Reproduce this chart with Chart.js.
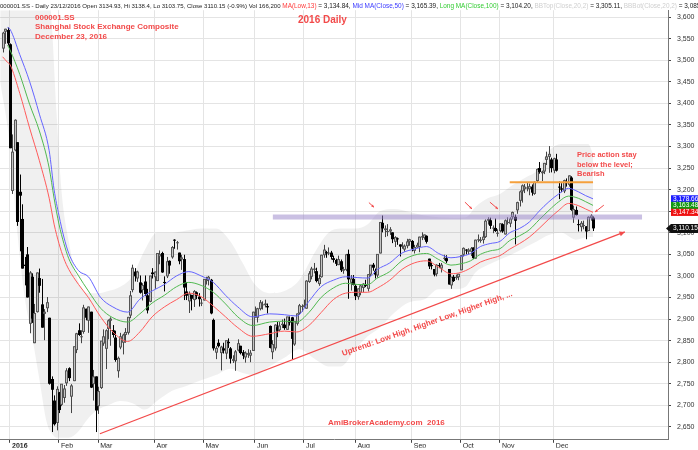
<!DOCTYPE html>
<html>
<head>
<meta charset="utf-8">
<script src="https://cdn.jsdelivr.net/npm/chart.js@4.4.1/dist/chart.umd.min.js"></script>
<style>
  html, body { margin: 0; padding: 0; background: #fff; }
</style>
</head>
<body>
<canvas id="chart" width="698" height="450"></canvas>
<script>
// day index 0 = 4 Jan 2016, the first three bars are the last days of 2015
const firstDay = -3;

const monthStart = [0, 20, 36, 59, 79, 100, 120, 141, 164, 184, 200, 222];
const monthNames = ['2016', 'Feb', 'Mar', 'Apr', 'May', 'Jun', 'Jul', 'Aug', 'Sep', 'Oct', 'Nov', 'Dec'];
const yTicks = [2650, 2700, 2750, 2800, 2850, 2900, 2950, 3000, 3050, 3100, 3150, 3200, 3250, 3300, 3350, 3400, 3450, 3500, 3550, 3600];

const openP = [
  3527, 3566, 3570,
  3537, 3197, 3291, 3310, 3195, 3132, 3026, 3050, 2889, 2998, 2844, 2916, 2995, 2934, 2912, 2925, 2903, 2761, 2711, 2659,
  2730, 2701, 2717, 2751, 2786, 2720, 2756, 2828, 2874, 2859, 2870, 2924, 2896, 2917, 2749, 2767,
  2698, 2740, 2843, 2831, 2877, 2896, 2874, 2857, 2779, 2834, 2845, 2863, 2868, 2908, 2967, 3010, 2994, 2985, 2967, 2987, 2955, 2940, 3008,
  2997, 2988, 3045, 3053, 2986, 2999, 3035, 3043, 3084, 3077, 3054, 3038, 3039, 2964, 2941, 2956, 2944, 2962, 2952, 2937,
  2943, 2988, 2991, 2991, 2898, 2822, 2845, 2821, 2832, 2820, 2847, 2832, 2803, 2802, 2827, 2838, 2823, 2811, 2817, 2815, 2826,
  2914, 2903, 2923, 2933, 2932, 2930, 2884, 2823, 2832, 2881, 2874, 2886, 2887, 2875, 2896, 2904, 2841, 2889, 2913, 2929,
  2931, 2924, 2986, 2998, 3014, 3011, 2981, 2997, 3048, 3055, 3053, 3054, 3041, 3037, 3025, 3034, 3012, 3014, 3051, 2984, 2993,
  2977, 2951, 2961, 2972, 2981, 2970, 3003, 3026, 3012, 3001, 3052, 3123, 3106, 3103, 3103, 3101, 3079, 3087, 3073, 3068, 3061, 3069, 3079,
  3081, 3058, 3066, 3067, 3089, 3088, 3093, 3040, 3025, 3016, 3004, 3025, 3017, 3040, 3041, 3016, 2978, 2998, 2995, 2997,
  3013, 3049, 3061, 3056, 3056, 3066, 3040, 3084, 3081, 3083, 3090, 3128, 3129, 3110, 3111, 3100,
  3104, 3120, 3096, 3125, 3121, 3136, 3137, 3152, 3174, 3196, 3201, 3204, 3201, 3207, 3190, 3220, 3250, 3238, 3242, 3269, 3276, 3270,
  3244, 3270, 3207, 3203, 3196, 3218, 3211, 3228, 3135, 3153, 3120, 3113, 3117, 3115, 3104, 3134, 3135
];
const highP = [
  3566, 3573, 3576,
  3539, 3328, 3363, 3310, 3235, 3166, 3044, 3067, 3011, 3006, 2935, 3008, 3017, 2993, 2923, 2951, 2903, 2767, 2723, 2744,
  2731, 2749, 2747, 2786, 2788, 2749, 2836, 2868, 2890, 2874, 2933, 2924, 2929, 2917, 2782, 2767,
  2743, 2849, 2876, 2876, 2899, 2904, 2886, 2873, 2813, 2868, 2866, 2879, 2905, 2965, 3026, 3018, 3012, 3001, 2983, 3001, 2970, 3000, 3018,
  3010, 3053, 3059, 3056, 2999, 3044, 3036, 3069, 3085, 3081, 3054, 3049, 3049, 2986, 2964, 2956, 2967, 2964, 2960, 2947,
  2993, 2998, 3000, 2993, 2901, 2837, 2853, 2838, 2845, 2850, 2855, 2835, 2816, 2828, 2853, 2838, 2828, 2825, 2830, 2828, 2917,
  2929, 2926, 2944, 2941, 2945, 2936, 2885, 2851, 2888, 2893, 2893, 2899, 2901, 2905, 2906, 2905, 2895, 2913, 2935, 2934,
  2945, 2990, 3011, 3021, 3030, 3019, 3003, 3049, 3072, 3058, 3066, 3058, 3047, 3040, 3047, 3038, 3021, 3051, 3061, 3002, 3002,
  2981, 2971, 2980, 2983, 2991, 3004, 3025, 3030, 3017, 3050, 3125, 3140, 3117, 3120, 3113, 3101, 3092, 3089, 3073, 3078, 3073, 3086, 3086,
  3083, 3072, 3077, 3091, 3101, 3096, 3094, 3040, 3033, 3016, 3027, 3030, 3030, 3049, 3048, 3016, 2998, 3002, 3003, 3005,
  3048, 3066, 3062, 3064, 3067, 3066, 3084, 3096, 3090, 3104, 3131, 3136, 3135, 3117, 3133, 3108,
  3122, 3122, 3131, 3136, 3136, 3149, 3142, 3172, 3198, 3212, 3213, 3217, 3214, 3212, 3219, 3249, 3264, 3244, 3262, 3288, 3301, 3274,
  3274, 3283, 3219, 3215, 3223, 3226, 3233, 3231, 3163, 3161, 3131, 3127, 3128, 3115, 3138, 3143, 3138
];
const lowP = [
  3518, 3538, 3534,
  3296, 3190, 3289, 3116, 3057, 3017, 2978, 2950, 2867, 2891, 2844, 2915, 2961, 2880, 2851, 2916, 2748, 2638, 2653, 2642,
  2682, 2698, 2706, 2745, 2756, 2682, 2756, 2821, 2861, 2844, 2866, 2897, 2868, 2740, 2711, 2638,
  2680, 2738, 2838, 2784, 2853, 2838, 2857, 2801, 2764, 2830, 2818, 2845, 2864, 2902, 2962, 2987, 2986, 2959, 2943, 2953, 2913, 2939, 2994,
  2970, 2988, 3027, 3007, 2964, 2995, 3005, 3040, 3063, 3061, 3027, 3014, 2944, 2944, 2914, 2920, 2928, 2946, 2929, 2930,
  2943, 2980, 2978, 2911, 2827, 2807, 2834, 2781, 2820, 2807, 2833, 2797, 2798, 2780, 2825, 2818, 2807, 2799, 2810, 2800, 2826,
  2903, 2892, 2920, 2922, 2927, 2913, 2832, 2807, 2827, 2858, 2871, 2879, 2875, 2875, 2885, 2807, 2838, 2885, 2910, 2917,
  2926, 2924, 2984, 2992, 3006, 2985, 2977, 2996, 3042, 3042, 3048, 3038, 3031, 3023, 3025, 3009, 3005, 3011, 2947, 2966, 2978,
  2944, 2945, 2955, 2962, 2974, 2964, 3000, 3012, 2994, 2996, 3052, 3101, 3090, 3092, 3095, 3076, 3067, 3072, 3045, 3063, 3056, 3064, 3070,
  3057, 3052, 3065, 3055, 3083, 3084, 3075, 3016, 3015, 2999, 2999, 3018, 3008, 3036, 3030, 2980, 2970, 2986, 2991, 2990,
  3013, 3045, 3050, 3050, 3046, 3039, 3040, 3078, 3077, 3075, 3088, 3119, 3109, 3099, 3102, 3091,
  3101, 3100, 3096, 3119, 3113, 3131, 3073, 3144, 3161, 3170, 3192, 3196, 3187, 3186, 3188, 3217, 3237, 3220, 3236, 3257, 3239, 3240,
  3238, 3242, 3178, 3194, 3192, 3207, 3207, 3151, 3123, 3140, 3103, 3103, 3108, 3085, 3104, 3128, 3104
];
const closeP = [
  3564, 3573, 3539,
  3296, 3288, 3362, 3125, 3186, 3017, 3023, 2950, 3008, 2901, 2914, 3008, 2977, 2880, 2917, 2939, 2750, 2736, 2656, 2738,
  2689, 2750, 2739, 2781, 2763, 2746, 2837, 2867, 2863, 2860, 2927, 2903, 2929, 2741, 2767, 2688,
  2733, 2850, 2860, 2874, 2897, 2901, 2863, 2805, 2810, 2860, 2864, 2870, 2905, 2955, 3019, 2999, 3010, 2961, 2979, 2958, 2920, 3001, 3004,
  3010, 3053, 3051, 3008, 2985, 3034, 3024, 3067, 3082, 3078, 3034, 3043, 2973, 2954, 2959, 2947, 2965, 2954, 2946, 2938,
  2993, 2991, 2998, 2913, 2832, 2833, 2837, 2836, 2827, 2851, 2844, 2808, 2807, 2825, 2844, 2821, 2815, 2822, 2821, 2822, 2917,
  2914, 2925, 2939, 2934, 2936, 2927, 2833, 2842, 2887, 2873, 2885, 2889, 2879, 2906, 2892, 2854, 2896, 2913, 2932, 2930,
  2932, 2989, 3006, 3017, 3017, 2988, 2995, 3049, 3061, 3054, 3054, 3044, 3037, 3028, 3039, 3013, 3016, 3050, 2992, 2994, 2979,
  2953, 2971, 2978, 2982, 2977, 3004, 3026, 3019, 3003, 3051, 3125, 3110, 3110, 3104, 3108, 3085, 3090, 3085, 3068, 3070, 3070, 3080, 3085,
  3063, 3067, 3072, 3091, 3092, 3096, 3079, 3022, 3024, 3003, 3026, 3023, 3026, 3042, 3034, 2980, 2998, 2988, 2998, 3005,
  3048, 3065, 3059, 3061, 3064, 3041, 3084, 3085, 3084, 3091, 3128, 3132, 3116, 3112, 3104, 3100,
  3122, 3103, 3129, 3125, 3133, 3148, 3128, 3171, 3196, 3210, 3207, 3205, 3208, 3193, 3218, 3248, 3241, 3242, 3262, 3277, 3283, 3250,
  3273, 3244, 3205, 3200, 3222, 3215, 3233, 3153, 3155, 3141, 3118, 3123, 3118, 3103, 3137, 3140, 3110.15
];

// moving averages at these days
const maDays = [-3, -1, 0, 4, 8, 12, 16, 18, 20, 22, 24, 28, 32, 37, 42, 48, 53, 58, 63, 68, 73, 78, 83, 88, 93, 99, 106, 112, 117, 122, 127, 132, 137, 142, 146, 150, 155, 160, 165, 170, 175, 180, 184, 188, 192, 196, 200, 204, 208, 212, 216, 220, 224, 228, 232, 235, 238];
const maLow13 = [3508, 3495, 3490, 3423, 3343, 3267, 3180, 3120, 3075, 3040, 3015, 2980, 2950, 2905, 2870, 2848, 2870, 2905, 2928, 2945, 2960, 2952, 2930, 2905, 2880, 2860, 2866, 2872, 2870, 2885, 2915, 2945, 2960, 2962, 2962, 2972, 2990, 3015, 3030, 3035, 3020, 3005, 3008, 3018, 3032, 3040, 3047, 3062, 3075, 3090, 3110, 3132, 3152, 3168, 3163, 3155, 3147.34];
const maMid50 = [null, 3576, 3572, 3513, 3451, 3375, 3290, 3200, 3140, 3090, 3052, 3012, 2998, 2950, 2928, 2916, 2946, 2965, 2980, 3000, 3010, 3000, 2985, 2955, 2928, 2905, 2912, 2910, 2907, 2941, 2975, 2990, 2998, 2996, 2995, 3015, 3030, 3053, 3062, 3068, 3052, 3042, 3045, 3052, 3068, 3075, 3080, 3100, 3110, 3125, 3150, 3172, 3190, 3203, 3195, 3186, 3178.66];
const maLong100 = [null, 3535, 3524, 3467, 3398, 3336, 3250, 3180, 3120, 3075, 3040, 3000, 2965, 2925, 2903, 2893, 2912, 2937, 2955, 2975, 2985, 2978, 2962, 2935, 2905, 2885, 2893, 2895, 2893, 2915, 2950, 2972, 2983, 2980, 2980, 2995, 3010, 3035, 3048, 3052, 3038, 3025, 3028, 3035, 3050, 3058, 3063, 3082, 3093, 3107, 3130, 3152, 3172, 3185, 3180, 3172, 3163.48];

// Bollinger band edges
const bbDays = [-4, 0, 3, 6, 9, 12, 15, 17, 19, 21, 24, 28, 32, 36, 40, 45, 50, 55, 60, 66, 72, 78, 84, 90, 95, 100, 106, 112, 118, 125, 130, 135, 141, 146, 151, 157, 163, 169, 175, 181, 186, 190, 195, 200, 205, 211, 215, 220, 225, 231, 236, 238];
const bbTop = [3700, 3700, 3720, 3720, 3720, 3720, 3700, 3590, 3380, 3200, 3080, 2985, 2960, 2960, 2965, 2975, 3000, 3060, 3100, 3100, 3105, 3110, 3110, 3080, 3030, 2980, 2960, 2965, 2990, 3060, 3100, 3110, 3110, 3120, 3150, 3155, 3148, 3140, 3136, 3135, 3136, 3160, 3180, 3190, 3210, 3230, 3244, 3290, 3306, 3306, 3306, 3283];
const bbBot = [3450, 3300, 3100, 2950, 2860, 2760, 2660, 2635, 2625, 2625, 2625, 2640, 2670, 2690, 2700, 2710, 2705, 2690, 2710, 2733, 2745, 2758, 2770, 2785, 2775, 2770, 2790, 2810, 2830, 2805, 2790, 2790, 2830, 2860, 2880, 2915, 2939, 2945, 2969, 2969, 2975, 3008, 3025, 3038, 3050, 3068, 3080, 3095, 3100, 3084, 3090, 3090];

if (openP.length !== closeP.length || highP.length !== closeP.length || lowP.length !== closeP.length) {
  console.error('ohlc length mismatch', openP.length, highP.length, lowP.length, closeP.length);
}

const RED = 'rgb(242,74,74)';
const FONT = 'Arial, "Liberation Sans", sans-serif';

function pts(days, vals) {
  return days.map((d, k) => ({ x: d, y: vals[k] }));
}

const candles = {
  id: 'candles',
  afterDatasetDraw(chart, args) {
    if (args.index !== 0) return;
    const c = chart.ctx, xs = chart.scales.x, ys = chart.scales.y, a = chart.chartArea;
    c.save();
    c.beginPath();
    c.rect(a.left, a.top, a.right - a.left, a.bottom - a.top);
    c.clip();
    for (let k = 0; k < closeP.length; k++) {
      const left = Math.round(xs.getPixelForValue(firstDay + k) - 1);
      const yo = ys.getPixelForValue(openP[k]), yc = ys.getPixelForValue(closeP[k]);
      const yh = ys.getPixelForValue(highP[k]), yl = ys.getPixelForValue(lowP[k]);
      const top = Math.min(yo, yc), h = Math.max(1, Math.abs(yo - yc));
      const up = closeP[k] >= openP[k];
      c.fillStyle = up ? '#444' : '#000';
      c.fillRect(left + 1, yh, 1, yl - yh);
      if (up) {
        c.fillStyle = '#555';
        c.fillRect(left, top, 3, h);
        if (h > 2) {
          c.fillStyle = '#c4c4c4';
          c.fillRect(left + 1, top + 1, 1, h - 2);
        }
      } else {
        c.fillStyle = '#000';
        c.fillRect(left, top, 3, h);
      }
    }
    c.restore();
  }
};

function arrow(c, x1, y1, x2, y2, size) {
  c.beginPath();
  c.moveTo(x1, y1);
  c.lineTo(x2, y2);
  c.stroke();
  const ang = Math.atan2(y2 - y1, x2 - x1);
  c.beginPath();
  c.moveTo(x2, y2);
  c.lineTo(x2 - size * Math.cos(ang - 0.45), y2 - size * Math.sin(ang - 0.45));
  c.lineTo(x2 - size * Math.cos(ang + 0.45), y2 - size * Math.sin(ang + 0.45));
  c.closePath();
  c.fill();
}

function tag(c, y, bg, text, pointer) {
  c.fillStyle = bg;
  c.beginPath();
  if (pointer) {
    c.moveTo(666, y);
    c.lineTo(671, y - 4.5);
    c.lineTo(698, y - 4.5);
    c.lineTo(698, y + 4.5);
    c.lineTo(671, y + 4.5);
  } else {
    c.rect(671, y - 3.6, 27, 7.2);
  }
  c.closePath();
  c.fill();
  c.fillStyle = '#fff';
  c.font = '6.5px ' + FONT;
  c.textBaseline = 'middle';
  c.textAlign = 'left';
  c.fillText(text, 673, y + 0.3);
}

const notes = {
  id: 'notes',
  afterDatasetsDraw(chart) {
    const c = chart.ctx, xs = chart.scales.x, ys = chart.scales.y;
    const X = v => xs.getPixelForValue(v), Y = v => ys.getPixelForValue(v);
    c.save();

    // resistance band and level
    c.fillStyle = 'rgba(150,130,200,0.5)';
    c.fillRect(X(107.3), Y(3136.5) - 2.5, X(258) - X(107.3), 5);
    c.strokeStyle = 'rgb(245,160,60)';
    c.lineWidth = 2;
    c.beginPath();
    c.moveTo(X(204), Y(3217));
    c.lineTo(X(238), Y(3217));
    c.stroke();

    // trend line and small pointers
    c.strokeStyle = RED;
    c.fillStyle = RED;
    c.lineWidth = 1.3;
    arrow(c, X(36.7), Y(2634), X(251), Y(3102), 6);
    c.lineWidth = 1;
    arrow(c, X(146.5), Y(3170), X(148.6), Y(3159), 3);
    arrow(c, X(185.7), Y(3171), X(188.6), Y(3155), 3);
    arrow(c, X(195.9), Y(3171), X(199.2), Y(3155), 3);
    arrow(c, X(242.4), Y(3164), X(238.8), Y(3148), 3);

    // texts
    c.textBaseline = 'alphabetic';
    c.textAlign = 'left';
    c.fillStyle = RED;
    c.font = 'bold 8px ' + FONT;
    c.fillText('000001.SS', 35, 19.5);
    c.fillText('Shanghai Stock Exchange Composite', 35, 29);
    c.fillText('December 23, 2016', 35, 38.5);
    c.font = 'bold 10px ' + FONT;
    c.fillText('2016 Daily', 298, 23);
    c.font = 'bold 7.5px ' + FONT;
    c.fillText('Price action stay', 577, 157);
    c.fillText('below the level;', 577, 167);
    c.fillText('Bearish', 577, 176);
    c.font = 'bold 8px ' + FONT;
    c.fillText('AmiBrokerAcademy.com  2016', 328, 425);

    c.save();
    c.translate(343, 356);
    c.rotate(-19.5 * Math.PI / 180);
    c.font = 'bold 8px ' + FONT;
    c.fillText('Uptrend: Low High, Higher Low, Higher High, ...', 0, 0);
    c.restore();

    // header line
    const hdr = [
      ['000001.SS - Daily 23/12/2016 Open 3134.93, Hi 3138.4, Lo 3103.75, Close 3110.15 (-0.9%) Vol 166,200 ', '#222'],
      ['MA(Low,13)', '#ff3b3b'], [' = 3,134.84, ', '#222'],
      ['Mid MA(Close,50)', '#3a3aff'], [' = 3,165.39, ', '#222'],
      ['Long MA(Close,100)', '#33cc33'], [' = 3,104.20, ', '#222'],
      ['BBTop(Close,20,2)', '#cfcfcf'], [' = 3,305.11, ', '#222'],
      ['BBBot(Close,20,2)', '#cfcfcf'], [' = 3,085.17', '#222']
    ];
    c.font = '10px ' + FONT;
    const size = 10 * 283 / c.measureText(hdr[0][0]).width;
    let hx = 0;
    hdr.forEach(([t, col], k) => {
      c.font = (k === 0 ? size : size * 1.06).toFixed(2) + 'px ' + FONT;
      c.fillStyle = col;
      c.fillText(t, hx, 8);
      hx += c.measureText(t).width;
    });

    // value tags on the price axis
    tag(c, Y(maMid50[maMid50.length - 1]), '#1f1fff', '3,178.66', false);
    tag(c, Y(maLong100[maLong100.length - 1]), '#119911', '3,163.48', false);
    tag(c, Y(maLow13[maLow13.length - 1]), '#ee1111', '3,147.34', false);
    tag(c, Y(closeP[closeP.length - 1]), '#111', '3,110.15', true);

    c.restore();
  }
};

const line = (data, color) => ({
  data, borderColor: color, borderWidth: 1, pointRadius: 0, fill: false,
  cubicInterpolationMode: 'monotone', order: 1
});

new Chart(document.getElementById('chart'), {
  type: 'line',
  data: {
    datasets: [
      { data: pts(bbDays, bbTop), borderWidth: 0, pointRadius: 0, fill: '+1',
        backgroundColor: 'rgba(0,0,0,0.06)', cubicInterpolationMode: 'monotone', order: 3 },
      { data: pts(bbDays, bbBot), borderWidth: 0, pointRadius: 0, fill: false,
        cubicInterpolationMode: 'monotone', order: 3 },
      line(pts(maDays, maLow13), 'rgb(255,90,90)'),
      line(pts(maDays, maMid50), 'rgb(100,100,255)'),
      line(pts(maDays, maLong100), 'rgb(80,185,80)')
    ]
  },
  options: {
    responsive: false,
    animation: false,
    layout: { padding: { top: 8, left: 0, right: 0, bottom: 0 } },
    plugins: { legend: { display: false }, tooltip: { enabled: false } },
    scales: {
      x: {
        type: 'linear',
        min: -4.08,
        max: 268.6,
        afterBuildTicks: s => { s.ticks = monthStart.map(v => ({ value: v })); },
        afterFit: s => { s.height = 8; },
        ticks: {
          callback: (v, i) => monthNames[i],
          align: 'start',
          labelOffset: 2,
          padding: -1,
          maxRotation: 0,
          autoSkip: false,
          color: '#222',
          font: c => ({ size: 7, family: FONT, weight: c.index === 0 ? 'bold' : 'normal' })
        },
        grid: { color: '#e4e4e4', tickLength: 3, tickColor: '#444' },
        border: { color: '#777' }
      },
      y: {
        position: 'right',
        min: 2620,
        max: 3616,
        afterBuildTicks: s => { s.ticks = yTicks.map(v => ({ value: v })); },
        afterFit: s => { s.width = 30; },
        ticks: {
          callback: v => v.toLocaleString('en-US'),
          padding: 6,
          color: '#333',
          font: { size: 7, family: FONT }
        },
        grid: { color: '#e4e4e4', tickLength: 3, tickColor: '#444' },
        border: { color: '#777' }
      }
    }
  },
  plugins: [candles, notes]
});
</script>
</body>
</html>
